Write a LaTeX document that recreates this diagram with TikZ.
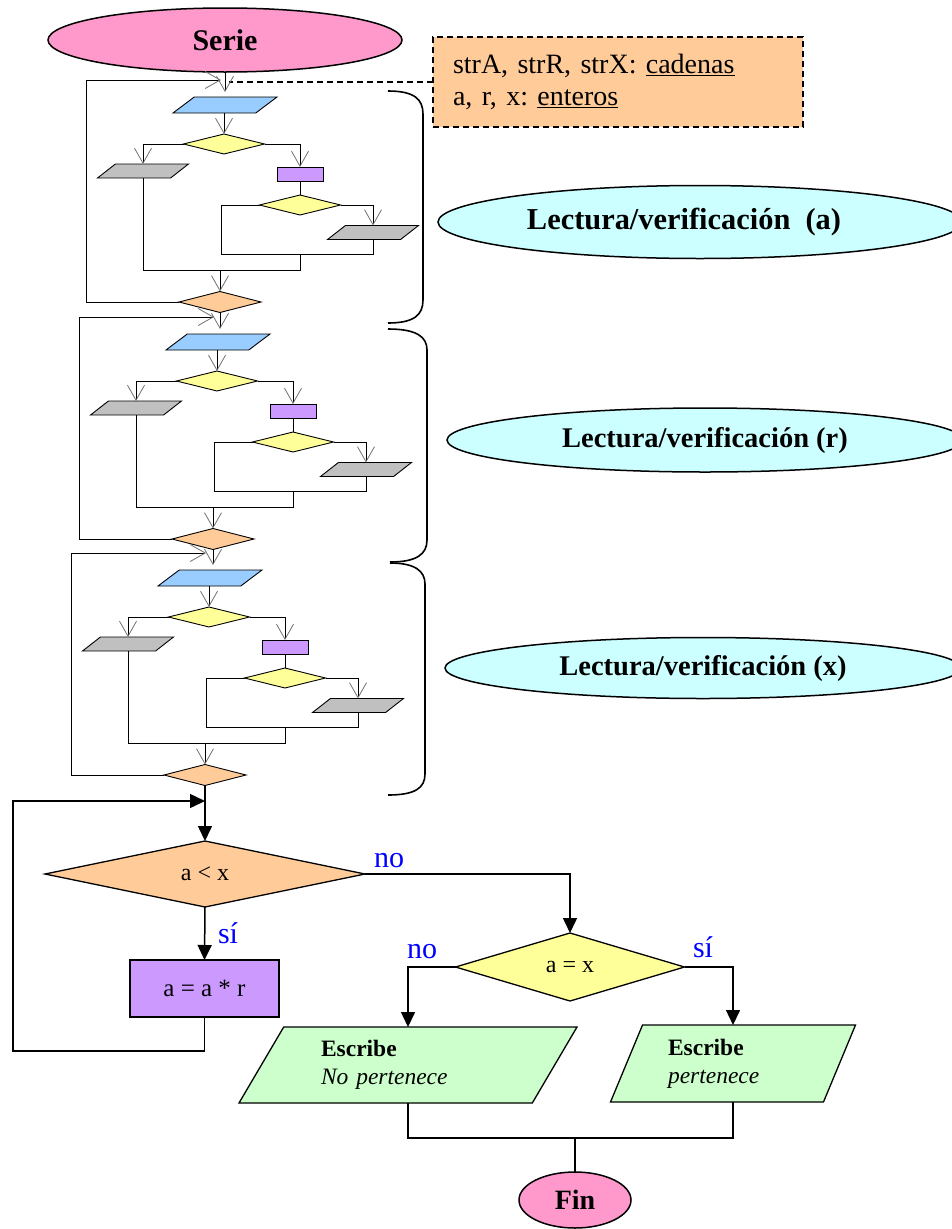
\documentclass[tikz,border=0pt]{standalone}
\usepackage{fontspec}
\setmainfont{Liberation Serif}
\usetikzlibrary{shapes.geometric,arrows.meta}
\definecolor{cpink}{HTML}{FF99CC}
\definecolor{corange}{HTML}{FFCC99}
\definecolor{ccyan}{HTML}{CCFFFF}
\definecolor{cblue}{HTML}{99CCFF}
\definecolor{cyellow}{HTML}{FFFF99}
\definecolor{cgray}{HTML}{C0C0C0}
\definecolor{cpurple}{HTML}{CC99FF}
\definecolor{cgreen}{HTML}{CCFFCC}
\definecolor{clabel}{HTML}{0000FF}
\begin{document}
\begin{tikzpicture}[x=1pt,y=-1pt,
  every node/.style={inner sep=0pt,outer sep=0pt},
  blueio/.style={trapezium, trapezium left angle=37, trapezium right angle=143, trapezium stretches body,
    text height=16pt, text depth=0pt,
    minimum width=104pt, minimum height=16pt, draw, fill=cblue, line width=0.9pt},
  grayio/.style={trapezium, trapezium left angle=38, trapezium right angle=142, trapezium stretches body,
    text height=14pt, text depth=0pt,
    minimum width=91pt, minimum height=14pt, draw, fill=cgray, line width=0.9pt},
  minidec/.style={diamond, draw, fill=cyellow, minimum width=81pt, minimum height=20pt, line width=0.9pt},
  miniproc/.style={rectangle, draw, fill=cpurple, minimum width=46pt, minimum height=14pt, line width=0.9pt},
  miniloop/.style={diamond, draw, fill=corange, minimum width=82pt, minimum height=21pt, line width=0.9pt},
  minilink/.style={line width=0.9pt},
  miniarr/.style={line width=0.9pt, -{Straight Barb[length=15pt,width=17pt,line width=0.8pt,color=black!55]}},
  bigline/.style={line width=1.5pt},
  bigarr/.style={line width=1.5pt, -{Triangle[length=15pt,width=14pt]}},
  bkt/.style={line width=1.6pt},
  greenio/.style 2 args={trapezium, trapezium left angle=#1, trapezium right angle=#2, trapezium stretches body,
    draw, fill=cgreen, line width=1.3pt, align=left, font=\fontsize{23.5pt}{28pt}\selectfont},
  lbl/.style={text=clabel, font=\fontsize{30pt}{36pt}\selectfont},
  lect/.style={ellipse, draw, fill=ccyan, line width=1.5pt}
]
\useasboundingbox (0,0) rectangle (952,1229);

% start
\node[ellipse, draw, fill=cpink, minimum width=354pt, minimum height=64pt, line width=1.5pt,
  font=\fontsize{30pt}{36pt}\selectfont\bfseries] (serie) at (225,40) {Serie};

% declarations
\node[draw, dash pattern=on 6pt off 4pt, line width=1.2pt, fill=corange, minimum width=370pt, minimum height=90pt,
  text width=330pt, inner xsep=20pt, align=left, font=\fontsize{28pt}{32pt}\selectfont] (note) at (618,82)
  {strA, strR, strX: \underline{cadenas}\\a, r, x:\ \underline{enteros}};
\coordinate (nt) at (229,82);
\draw[dash pattern=on 6pt off 4pt, line width=1.2pt] (note.west) -- (nt);

% three reading blocks
\foreach \i/\dx/\dy in {1/0/0,2/-7/237,3/-15/473}{
  \begin{scope}[shift={(\dx,\dy)}]
    \node[blueio] (p\i) at (225,105) {};
    \node[minidec] (d\i) at (224,144) {};
    \node[grayio] (g\i) at (143,171) {};
    \node[miniproc] (r\i) at (300,174) {};
    \node[minidec] (e\i) at (300,205) {};
    \node[grayio] (h\i) at (373,232.5) {};
    \node[miniloop] (o\i) at (220,302) {};
    \coordinate (ml\i) at (221,254);
    \coordinate (mo\i) at (300,270);
    \coordinate (fb\i) at (86,80);
    \coordinate (ft\i) at (221,80);
  \end{scope}
  \draw[miniarr] (d\i.north |- p\i.south) -- (d\i.north);
  \draw[miniarr] (d\i.west) -| (g\i.north);
  \draw[miniarr] (d\i.east) -| (r\i.north);
  \draw[minilink] (r\i.south) -- (e\i.north);
  \draw[minilink] (e\i.west) -| (ml\i) -- (ml\i -| h\i.south) -- (h\i.south);
  \draw[miniarr] (e\i.east) -| (h\i.north);
  \draw[minilink] (g\i.south) |- (mo\i) -- (mo\i |- ml\i);
  \draw[miniarr] (o\i.north |- mo\i) -- (o\i.north);
  \draw[miniarr] (o\i.west) -| (fb\i) -- (ft\i);
}
\draw[miniarr, shorten >=5pt] (serie.south) -- (serie.south |- p1.north);
\draw[miniarr, shorten >=5pt] (o1.south) -- (o1.south |- p2.north);
\draw[miniarr, shorten >=5pt] (o2.south) -- (o2.south |- p3.north);

% brackets
\draw[bkt] (388,91) .. controls (414,91) and (423,99) .. (423,114) -- (423,300) .. controls (423,315) and (414,323) .. (388,323);
\draw[bkt] (388,329) .. controls (417,329) and (427,337) .. (427,350) -- (427,540) .. controls (427,554) and (417,562) .. (390,562);
\draw[bkt] (390,563) .. controls (415,563) and (425,571) .. (425,584) -- (425,774) .. controls (425,788) and (415,795) .. (388,795);

% labels of the blocks
\node[lect, minimum width=524pt, minimum height=73pt, font=\fontsize{30.4pt}{36pt}\selectfont\bfseries]
  (l1) at (700,222) {Lectura/verificación\ \ (a)\hspace*{32pt}};
\node[lect, minimum width=516pt, minimum height=64pt, font=\fontsize{28.5pt}{34pt}\selectfont\bfseries]
  (l2) at (705,440) {Lectura/verificación (r)};
\node[lect, minimum width=516pt, minimum height=61pt, font=\fontsize{28.5pt}{34pt}\selectfont\bfseries]
  (l3) at (703,668) {Lectura/verificación (x)};

% main loop
\node[diamond, draw, fill=corange, minimum width=320pt, minimum height=66pt, line width=1.3pt,
  font=\fontsize{24pt}{28pt}\selectfont] (ax) at (205,874) {\raisebox{-5pt}{a < x}};
\node[rectangle, draw, fill=cpurple, minimum width=149pt, minimum height=57pt, line width=2.2pt,
  font=\fontsize{25pt}{30pt}\selectfont] (aa) at (204.5,988.5) {a = a * r};
\node[diamond, draw, fill=cyellow, minimum width=229pt, minimum height=68pt, line width=1.3pt,
  font=\fontsize{24pt}{28pt}\selectfont] (eq) at (570,967) {\raisebox{-5pt}{a = x}};
\node[greenio={47.8}{132.2}, minimum width=338pt, minimum height=76pt, text width=174pt] (w1) at (408,1065)
  {\textbf{Escribe}\\\textit{No pertenece}};
\node[greenio={57}{123}, minimum width=245pt, minimum height=77pt, text width=130pt] (w2) at (733,1063.5)
  {\textbf{Escribe}\\\textit{pertenece}};
\node[ellipse, draw, fill=cpink, minimum width=112pt, minimum height=56pt, line width=1.5pt,
  font=\fontsize{28pt}{34pt}\selectfont\bfseries] (fin) at (575,1200) {Fin};

\coordinate (lb) at (13,1051);
\coordinate (lt) at (13,801);
\coordinate (jn) at (575,1138);
\draw[bigarr] (o3.south) -- (o3.south |- ax.north);
\draw[bigarr] (aa.south) |- (lb) -- (lt) -- (o3.south |- lt);
\draw[bigarr] (ax.south) -- (aa.north);
\draw[bigarr] (ax.east) -| (eq.north);
\draw[bigarr] (eq.west) -| (w1.north);
\draw[bigarr] (eq.east) -| (w2.north);
\draw[bigline] (w1.south) |- (jn) -| (w2.south);
\draw[bigline] (jn) -- (fin.north);

\node[lbl, anchor=base west] (no1) at (374,867) {no};
\node[lbl, anchor=base west] (si1) at (218,943) {sí};
\node[lbl, anchor=base west] (no2) at (407,958) {no};
\node[lbl, anchor=base west] (si2) at (693,957) {sí};
\end{tikzpicture}
\end{document}
